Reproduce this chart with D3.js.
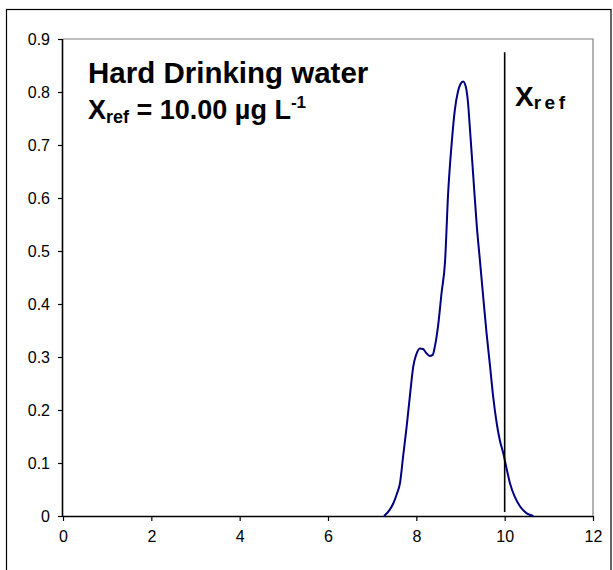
<!DOCTYPE html>
<html>
<head>
<meta charset="utf-8">
<script src="https://cdn.jsdelivr.net/npm/d3@7"></script>
<style>
  html, body { margin: 0; padding: 0; background: #fff; }
  svg { display: block; font-family: Arial, "Liberation Sans", sans-serif; }
</style>
</head>
<body>
<svg id="chart" width="613" height="570"></svg>
<script>
// Kernel density curve (x in µg/L, density)
const xValues = [7.27, 7.40, 7.48, 7.56, 7.63, 7.70, 7.78, 7.86, 7.93, 8.00, 8.08, 8.15, 8.23, 8.30, 8.37, 8.42, 8.50, 8.57, 8.65, 8.72, 8.80, 8.87, 8.94, 9.00, 9.06, 9.12, 9.17, 9.21, 9.29, 9.37, 9.44, 9.52, 9.59, 9.67, 9.74, 9.82, 9.89, 9.97, 10.05, 10.12, 10.23, 10.35, 10.50, 10.65];
const densityValues = [0, 0.012, 0.024, 0.042, 0.062, 0.112, 0.168, 0.231, 0.282, 0.305, 0.316, 0.315, 0.307, 0.302, 0.304, 0.320, 0.364, 0.420, 0.480, 0.609, 0.703, 0.765, 0.800, 0.815, 0.820, 0.810, 0.780, 0.735, 0.640, 0.546, 0.482, 0.408, 0.345, 0.282, 0.225, 0.175, 0.143, 0.118, 0.087, 0.062, 0.036, 0.018, 0.005, 0];
const xRefValue = 10;
const xRefLineTop = 0.875;
const xTicks = [0, 2, 4, 6, 8, 10, 12];
const yTicks = [0, 0.1, 0.2, 0.3, 0.4, 0.5, 0.6, 0.7, 0.8, 0.9];
const titleLine1 = "Hard Drinking water";

const svg = d3.select("#chart");
const pLeft = 63, pRight = 593, pTop = 39, pBottom = 516;

// outer frame
svg.append("rect").attr("x", 6.5).attr("y", 9.5).attr("width", 604.5).attr("height", 580)
  .attr("fill", "none").attr("stroke", "#000").attr("stroke-width", 1.2);

const x = d3.scaleLinear().domain([0, 12]).range([pLeft, pRight]);
const y = d3.scaleLinear().domain([0, 0.9]).range([pBottom, pTop]);

// plot area gray border (top/right)
svg.append("path")
  .attr("d", `M${pLeft},${pTop}H${pRight}V${pBottom}`)
  .attr("fill", "none").attr("stroke", "#808080").attr("stroke-width", 1.2);

// axes
const xAxis = d3.axisBottom(x).tickValues(xTicks).tickSize(5).tickPadding(10).tickFormat(d3.format("d"));
const yAxis = d3.axisLeft(y).tickValues(yTicks).tickSize(5).tickPadding(8).tickFormat(d => d === 0 ? "0" : d3.format(".1f")(d));

const gx = svg.append("g").attr("transform", `translate(0,${pBottom})`).call(xAxis);
const gy = svg.append("g").attr("transform", `translate(${pLeft},0)`).call(yAxis);
[gx, gy].forEach(g => {
  g.select(".domain").attr("stroke", "#000").attr("stroke-width", 1.6);
  g.selectAll(".tick line").attr("stroke", "#000").attr("stroke-width", 1.2);
  g.selectAll(".tick text").attr("font-size", 16).attr("fill", "#000")
    .attr("font-family", "Arial, 'Liberation Sans', sans-serif");
});
gx.select(".domain").attr("d", `M${pLeft},0.5H${pRight}`);
gy.select(".domain").attr("d", `M-0.5,${pBottom}V${pTop}`);

// density curve
const data = xValues.map((v, i) => [v, densityValues[i]]);
svg.append("path")
  .datum(data)
  .attr("fill", "none")
  .attr("stroke", "#000080")
  .attr("stroke-width", 2)
  .attr("d", d3.line().x(d => x(d[0])).y(d => y(d[1])).curve(d3.curveMonotoneX));

// reference line
svg.append("line")
  .attr("x1", x(xRefValue)).attr("x2", x(xRefValue))
  .attr("y1", y(0) - 4).attr("y2", y(xRefLineTop))
  .attr("stroke", "#000").attr("stroke-width", 1.6);

// annotations
svg.append("text").attr("x", 88).attr("y", 83)
  .attr("font-size", 29.5).attr("font-weight", "bold").text(titleLine1);

const t2 = svg.append("text").attr("x", 88).attr("y", 119)
  .attr("font-size", 27).attr("font-weight", "bold");
t2.append("tspan").text("X");
t2.append("tspan").attr("font-size", 18).attr("dy", 4).text("ref");
t2.append("tspan").attr("dy", -4).text(" = 10.00 µg L");
t2.append("tspan").attr("font-size", 17).attr("dy", -11).text("-1");

const t3 = svg.append("text").attr("x", 515).attr("y", 106)
  .attr("font-size", 28).attr("font-weight", "bold");
t3.append("tspan").text("X");
t3.append("tspan").attr("font-size", 19).attr("dy", 3).attr("letter-spacing", 3.5).text("ref");
</script>
</body>
</html>
